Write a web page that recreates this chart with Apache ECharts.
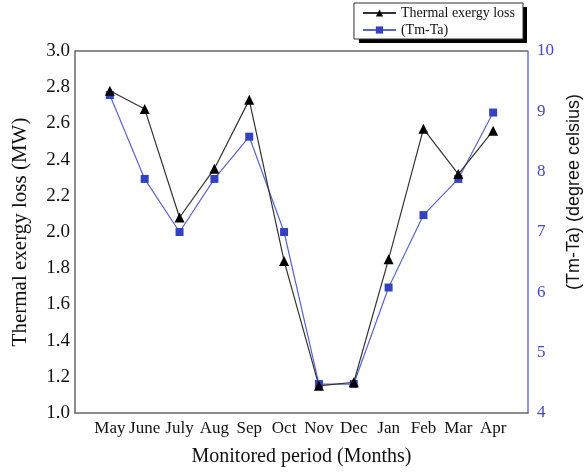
<!DOCTYPE html>
<html>
<head>
<meta charset="utf-8">
<script src="https://cdn.jsdelivr.net/npm/echarts@6/dist/echarts.min.js"></script>
<style>
  html, body { margin: 0; padding: 0; background: #fff; }
  #chart { width: 584px; height: 473px; }
</style>
</head>
<body>
<div id="chart"></div>
<script>
// monthly values
const months = ['May', 'June', 'July', 'Aug', 'Sep', 'Oct', 'Nov', 'Dec', 'Jan', 'Feb', 'Mar', 'Apr'];
const exergyLoss = [2.78, 2.68, 2.08, 2.35, 2.73, 1.84, 1.15, 1.17, 1.85, 2.57, 2.32, 2.56];
const tempDiff = [9.27, 7.88, 7.0, 7.88, 8.58, 7.0, 4.48, 4.48, 6.08, 7.28, 7.88, 8.98];
const leftTicks = ['1.0', '1.2', '1.4', '1.6', '1.8', '2.0', '2.2', '2.4', '2.6', '2.8', '3.0'];

const serif = 'Liberation Serif';
const blue = '#3343c0';

const chart = echarts.init(document.getElementById('chart'));

chart.setOption({
  animation: false,
  backgroundColor: '#fff',
  grid: { left: 75, right: 56, top: 51, bottom: 60, outerBoundsMode: 'none' },
  legend: {
    right: 61, top: 3,
    z: 10,
    orient: 'vertical',
    itemGap: 3,
    itemWidth: 33, itemHeight: 9,
    padding: [3, 8, 2, 8],
    backgroundColor: '#fff',
    borderColor: '#333', borderWidth: 1,
    textStyle: { fontFamily: serif, fontSize: 14, color: '#111' },
    data: ['Thermal exergy loss', '(Tm-Ta)']
  },
  xAxis: {
    type: 'value',
    min: 0, max: 13, interval: 1,
    name: 'Monitored period (Months)',
    nameLocation: 'middle', nameGap: 34,
    nameTextStyle: { fontFamily: serif, fontSize: 20, color: '#111' },
    axisLine: { show: true, lineStyle: { color: '#666', width: 1.5 } },
    axisTick: { show: false },
    splitLine: { show: false },
    axisLabel: {
      margin: 7, fontFamily: serif, fontSize: 17, color: '#111',
      formatter: v => months[v - 1] || ''
    }
  },
  yAxis: [{
    type: 'value',
    min: 1.0, max: 3.0, interval: 0.2,
    name: 'Thermal exergy loss (MW)',
    nameLocation: 'middle', nameGap: 44,
    nameTextStyle: { fontFamily: serif, fontSize: 21, color: '#111' },
    axisLine: { show: true, lineStyle: { color: '#666', width: 1.5 } },
    axisTick: { show: false },
    splitLine: { show: false },
    axisLabel: {
      margin: 5, fontFamily: serif, fontSize: 19, color: '#111',
      formatter: v => leftTicks[Math.round((v - 1) / 0.2)]
    }
  }, {
    type: 'value',
    position: 'right',
    min: 4, max: 10, interval: 1,
    name: '(Tm-Ta) (degree celsius)',
    nameLocation: 'middle', nameGap: 27, nameRotate: 90,
    nameTextStyle: { fontFamily: 'Liberation Sans', fontSize: 18, color: '#111', padding: [0, 0, 0, 80] },
    axisLine: { show: true, lineStyle: { color: '#6a72d8', width: 1.5 } },
    axisTick: { show: false },
    splitLine: { show: false },
    axisLabel: { margin: 9, fontFamily: serif, fontSize: 17, color: '#4348c4' }
  }],
  graphic: [{
    // top frame line
    type: 'line',
    shape: { x1: 75, y1: 51, x2: 528, y2: 51 },
    style: { stroke: '#666', lineWidth: 1.5 }
  }, {
    // legend drop shadow
    type: 'rect',
    z: 1,
    shape: { x: 359, y: 7, width: 168, height: 36 },
    style: { fill: '#000' }
  }],
  series: [{
    name: 'Thermal exergy loss',
    type: 'line',
    yAxisIndex: 0,
    data: exergyLoss.map((v, i) => [i + 1, v]),
    symbol: 'triangle', symbolSize: 10,
    lineStyle: { color: '#333', width: 1.2 },
    itemStyle: { color: '#000' },
    z: 3
  }, {
    name: '(Tm-Ta)',
    type: 'line',
    yAxisIndex: 1,
    data: tempDiff.map((v, i) => [i + 1, v]),
    symbol: 'rect', symbolSize: 8,
    lineStyle: { color: '#5a64d0', width: 1.2 },
    itemStyle: { color: blue },
    z: 2
  }]
});
</script>
</body>
</html>
